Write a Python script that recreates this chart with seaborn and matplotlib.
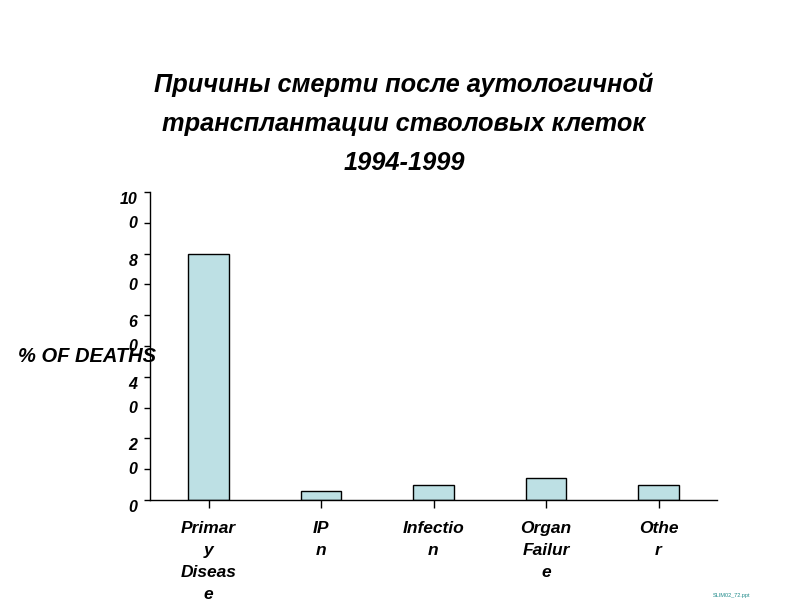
import matplotlib
matplotlib.use("Agg")
import matplotlib.pyplot as plt
import seaborn as sns
import pandas as pd

# ---- data ----
categories = ["Primar\ny\nDiseas\ne", "IP\nn", "Infectio\nn", "Organ\nFailur\ne", "Othe\nr"]
values = [80, 3, 5, 7, 5]
ytick_values = [0, 10, 20, 30, 40, 50, 60, 70, 80, 90, 100]
ytick_labels = ["0", "", "2\n0", "", "4\n0", "", "6\n0", "", "8\n0", "", "10\n0"]
title_text = "Причины смерти после аутологичной\nтрансплантации стволовых клеток\n1994-1999"
ylabel_text = "% OF DEATHS"
footnote_text = "SLIM02_72.ppt"

sns.set_theme(style="white")
plt.rcParams["font.family"] = ["Liberation Sans", "DejaVu Sans"]
plt.rcParams["text.color"] = "black"
plt.rcParams["xtick.color"] = "black"
plt.rcParams["ytick.color"] = "black"
plt.rcParams["axes.labelcolor"] = "black"

df = pd.DataFrame({"cause": categories, "pct": values})

fig = plt.figure(figsize=(8, 6), dpi=100)
ax = fig.add_axes([150 / 800, 100 / 600, 567 / 800, 308 / 600])

sns.barplot(data=df, x="cause", y="pct", color="#BDE0E4", saturation=1,
            width=0.36, edgecolor="black", linewidth=1.0, ax=ax)

ax.set_xlim(-0.52, 4.52)
ax.set_ylim(0, 100)
ax.set_yticks(ytick_values)
ax.set_yticklabels(ytick_labels, fontsize=11.5, fontstyle="italic",
                   fontweight="bold", va="top", ha="right", linespacing=1.75)
ax.tick_params(axis="y", left=True, direction="out", length=4, width=1,
               color="black", labelcolor="black", pad=5)
ax.tick_params(axis="x", bottom=True, direction="out", length=6, width=1,
               color="black", labelcolor="black", pad=9)
for lab in ax.get_xticklabels():
    lab.set_fontsize(12.5)
    lab.set_fontstyle("italic")
    lab.set_fontweight("bold")
    lab.set_linespacing(1.6)
    lab.set_va("top")

for s in ["top", "right"]:
    ax.spines[s].set_visible(False)
for s in ["left", "bottom"]:
    ax.spines[s].set_color("black")
    ax.spines[s].set_linewidth(1.0)

ax.set_xlabel("")
ax.set_ylabel(ylabel_text, rotation=0, fontsize=14.5, fontstyle="italic",
              fontweight="bold", ha="left", va="center", color="black")
ax.yaxis.set_label_coords((18 - 150) / 567, (500 - 357) / 308)

fig.text(404 / 800, 1 - 72 / 600, title_text, ha="center", va="top", fontsize=18.3,
         fontstyle="italic", fontweight="bold", linespacing=1.8, color="black")

fig.text(713 / 800, 1 - 595 / 600, footnote_text, fontsize=4, color="#1f8a8a",
         ha="left", va="center")

fig.savefig("out.png", dpi=100)
